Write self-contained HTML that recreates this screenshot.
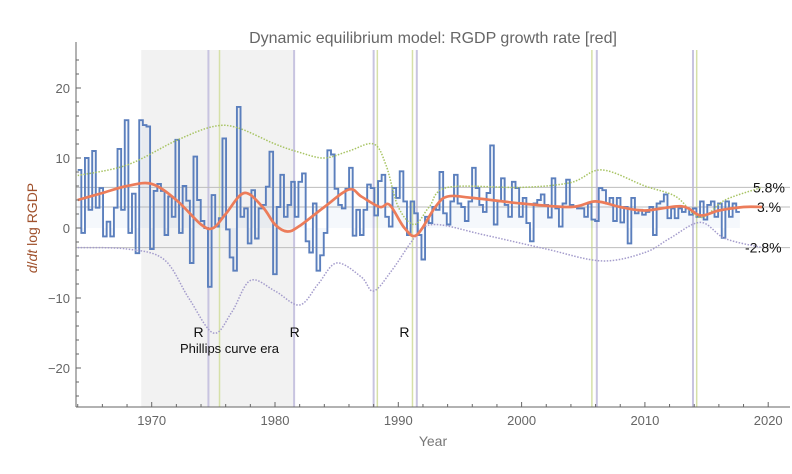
<!DOCTYPE html>
<html><head><meta charset="utf-8">
<style>
body{margin:0;background:#fff;}
svg{display:block;font-family:"Liberation Sans",sans-serif;}
</style></head>
<body>
<svg id="chart" width="792" height="474" viewBox="0 0 792 474" xmlns="http://www.w3.org/2000/svg"></svg>
<script>
const startYear = 1964.0;
const endYear = 2017.7;
const rgdpGrowth = [8.3,-0.7,10,2.6,11,2.9,5.7,-1.2,0.9,-1.2,2.9,11.3,2.6,15.4,-0.7,4.9,-3.6,15.4,14.7,14.5,-3,5.3,6.3,5.3,-1,4.5,1.6,12.6,-0.7,6,3.9,-5,10.2,4,1,0,-8.4,4.7,0.2,1.4,12.8,-0.2,-4.2,-6.1,17.3,1.6,2.8,-2.2,5.4,-1.5,2.8,3.3,5.9,10.9,-6.6,3,7.6,1.6,3.3,6.6,1.6,6.6,7.8,-1.9,-3.5,3.5,-6.1,
-3.9,-0.7,11.1,10.5,5.6,3.3,2.8,5.6,8.6,-1.1,2.6,-1,2.6,6.2,5.7,1.8,6.7,7.6,1.6,0.2,5.7,4.3,8.1,3.8,-1,3.8,2.1,-1,-4.5,1.6,0.7,3,2.6,8,2.1,0.5,3.8,7.6,3.5,3,1,3.8,8.6,5.7,3.3,2.3,5,11.8,0.5,3.8,7.1,3.3,1.6,6.6,5.7,1.6,4.3,0.7,-1.9,3.5,4,
4.8,3.3,1.5,7.1,2.8,0.2,3.5,6.9,3.3,3,2.8,2.8,1.6,3.5,1.2,1,5.7,5.4,3.5,4.3,1,4.3,0.8,3,-2.2,4.3,2.1,2.6,1.9,2.3,3,-1,3.5,3.8,4.8,1.4,2.8,1.4,2.8,2.3,2.8,1.9,2.8,1.6,3.8,1.2,3.3,3.8,1.6,3.5,-1.4,3.8,1.6,3.5,2.3];
const modelYears = [1964,1966,1968,1970,1972,1974,1975,1976,1977.5,1979,1980,1981,1982,1984,1986,1987,1988.5,1989.3,1990.5,1991.5,1993,1994,1996,2000,2004,2006,2008,2010,2013,2014.5,2016,2018,2019.5];
const modelValues = [4,5,6,6.3,4,0.5,0,2,5,3,0.5,-0.5,0.3,3,5.5,4.5,3,3.3,0,-1,3,4.5,4.3,3.5,3,3.8,3,2.5,3.1,1.8,2.5,3,3];
const upperYears = [1964,1968,1972,1975,1977,1980,1982,1984,1986,1988,1989,1990,1991.3,1992.5,1994,2000,2004,2006.5,2010,2012.5,2014.5,2016.5,2019.5];
const upperValues = [7.5,9,12.5,14.5,14.3,12,10.8,10,11,12,9,3,0.5,3,5.8,5.8,6.5,8.3,6,4.5,1.5,4,5.8];
const lowerYears = [1964,1968,1971,1973,1975,1976.5,1978,1980,1982,1983.5,1985,1987,1988,1989.5,1991.5,1993,1997,2002,2006.5,2010,2012,2014.5,2016.5,2019.5];
const lowerValues = [-2.8,-3,-4.5,-10,-15,-12,-7.5,-9,-11,-8,-5,-7,-9,-6,-1,0.5,-1,-3,-4.7,-3.5,-1.5,0.8,-1.5,-2.8];
const purpleLines = [1974.6,1981.55,1988.0,1991.5,2006.1,2013.9];
const greenLines = [1975.5,1988.3,1991.15,2005.7,2014.2];
const refLevels = [5.8,3,-2.8];
const refLabels = ["5.8%","3.%","-2.8%"];
const recessionYears = [1973.8,1981.6,1990.5];
const xTicks = [1970,1980,1990,2000,2010,2020];
const yTicks = [-20,-10,0,10,20];

const NS="http://www.w3.org/2000/svg";
const svg=document.getElementById('chart');
const L=76,R=790,T=50,B=407;
const X=y=>151.7+(y-1970)*12.33;
const Y=v=>228-v*7;
function el(tag,attrs,parent){const e=document.createElementNS(NS,tag);for(const k in attrs)e.setAttribute(k,attrs[k]);(parent||svg).appendChild(e);return e;}
function smooth(xs,vs){let pts=xs.map((x,i)=>[X(x),Y(vs[i])]);let d=`M${pts[0][0]},${pts[0][1]}`;for(let i=0;i<pts.length-1;i++){const p0=pts[Math.max(0,i-1)],p1=pts[i],p2=pts[i+1],p3=pts[Math.min(pts.length-1,i+2)];const c1=[p1[0]+(p2[0]-p0[0])/6,p1[1]+(p2[1]-p0[1])/6],c2=[p2[0]-(p3[0]-p1[0])/6,p2[1]-(p3[1]-p1[1])/6];d+=` C${c1[0]},${c1[1]} ${c2[0]},${c2[1]} ${p2[0]},${p2[1]}`;}return d;}

let band=el('rect',{x:X(1969.15),y:T,width:X(1981.6)-X(1969.15),height:B-T,fill:'#f2f2f2'});


purpleLines.forEach(yr=>{const l=el('line',{x1:X(yr),x2:X(yr),y1:T,y2:B,stroke:'#c8c4e0','stroke-width':2});

});
greenLines.forEach(yr=>{const l=el('line',{x1:X(yr),x2:X(yr),y1:T,y2:B,stroke:'#d6e0a8','stroke-width':1.5});

});
refLevels.forEach((v,i)=>{const l=el('line',{x1:L,x2:R,y1:Y(v),y2:Y(v),stroke:'#bdbdbd','stroke-width':1});


const t=el('text',{x:i==2?745:(i==0?753:757),y:Y(v)+5,'font-size':14,fill:'#111'});t.textContent=refLabels[i];

});

// blue step series
const step=(endYear-startYear)/rgdpGrowth.length;
let d='',fd=`M${X(startYear)},${Y(0)}`;
rgdpGrowth.forEach((v,i)=>{const x0=X(startYear+i*step),x1=X(startYear+(i+1)*step);d+=(i?'L':'M')+x0+','+Y(v)+'L'+x1+','+Y(v);fd+='L'+x0+','+Y(v)+'L'+x1+','+Y(v);});
fd+=`L${X(endYear)},${Y(0)}Z`;
let f=el('path',{d:fd,fill:'rgba(90,130,200,0.06)'});


let bl=el('path',{d:d,fill:'none',stroke:'#5b7fbd','stroke-width':1.9});



let up=el('path',{d:smooth(upperYears,upperValues),fill:'none',stroke:'#a8c464','stroke-width':1.5,'stroke-dasharray':'1.5,1.5'});


let lo=el('path',{d:smooth(lowerYears,lowerValues),fill:'none',stroke:'#a49ccc','stroke-width':1.5,'stroke-dasharray':'1.5,1.5'});


let md=el('path',{d:smooth(modelYears,modelValues),fill:'none',stroke:'#ec7c5a','stroke-width':2.7});



recessionYears.forEach(yr=>{const t=el('text',{x:X(yr),y:337,'font-size':14,fill:'#111','text-anchor':'middle'});t.textContent='R';

});
let pc=el('text',{x:180,y:353,'font-size':13,fill:'#111'});pc.textContent='Phillips curve era';



// axes
let ax=el('line',{x1:L,x2:R,y1:B,y2:B,stroke:'#666','stroke-width':1});


let ay=el('line',{x1:L,x2:L,y1:T-8,y2:B,stroke:'#666','stroke-width':1});


for(let yr=1964;yr<=2021;yr+=2){const major=yr%10==0;el('line',{x1:X(yr),x2:X(yr),y1:B,y2:B-(major?5:3),stroke:'#666'});}
for(let v=-24;v<=24;v+=2){const major=v%10==0;el('line',{x1:L,x2:L+(major?5:3),y1:Y(v),y2:Y(v),stroke:'#666'});}
xTicks.forEach(yr=>{const t=el('text',{x:X(yr),y:425,'font-size':13,fill:'#666','text-anchor':'middle'});t.textContent=yr;

});
yTicks.forEach(v=>{const t=el('text',{x:70,y:Y(v)+5,'font-size':13,fill:'#666','text-anchor':'end'});t.textContent=v<0?'\u2212'+(-v):v;

});
let xt=el('text',{x:433,y:446,'font-size':14,fill:'#777','text-anchor':'middle'});xt.textContent='Year';


let yt=el('text',{x:0,y:0,'font-size':14,fill:'#a0522d','text-anchor':'middle',transform:'translate(37,228) rotate(-90)'});
yt.innerHTML='<tspan font-style="italic">d</tspan>/<tspan font-style="italic">dt</tspan> log RGDP';


let tt=el('text',{x:433,y:43,'font-size':16,fill:'#666','text-anchor':'middle'});tt.textContent='Dynamic equilibrium model: RGDP growth rate [red]';


</script>
</body></html>
